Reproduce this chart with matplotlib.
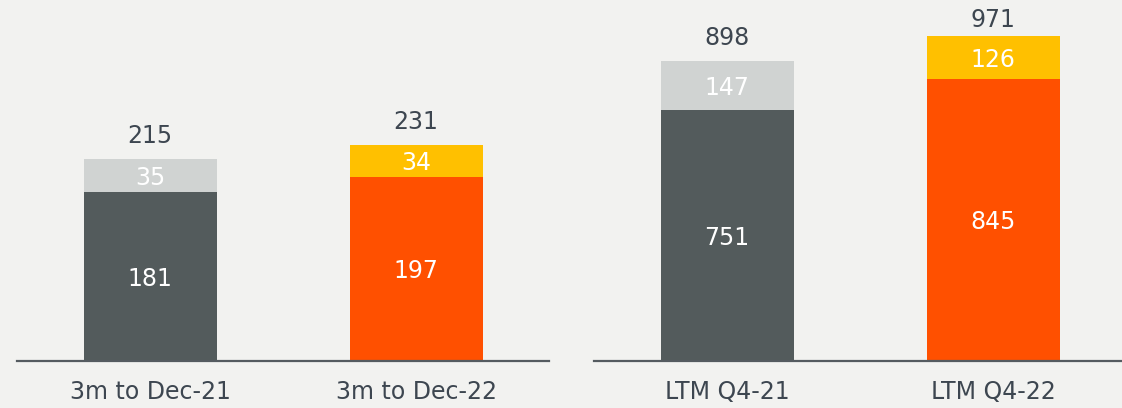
import matplotlib
matplotlib.use("Agg")
import matplotlib.pyplot as plt
import numpy as np

# quarter panel
q_labels = ["3m to Dec-21", "3m to Dec-22"]
q_base = [181, 197]
q_top = [35, 34]
q_total = [215, 231]

# LTM panel
ltm_labels = ["LTM Q4-21", "LTM Q4-22"]
ltm_base = [751, 845]
ltm_top = [147, 126]
ltm_total = [898, 971]

BG = "#F2F2F0"
TXT = "#3D4650"
base_cols = ["#535B5C", "#FF5000"]
top_cols = ["#D0D3D2", "#FFC000"]

fig = plt.figure(figsize=(11.22, 4.08), dpi=100, facecolor=BG)
W, H = 1122, 408
base_y = 361
FS = 17


def panel(left_px, right_px, ytop, labels, base, top, total):
    ax = fig.add_axes([left_px / W, (H - base_y) / H, (right_px - left_px) / W, base_y / H])
    ax.set_facecolor(BG)
    x = np.arange(len(labels))
    ax.bar(x, base, width=0.5, color=base_cols, zorder=2)
    ax.bar(x, top, width=0.5, bottom=base, color=top_cols, zorder=2)
    ax.set_xlim(-0.5, 1.5)
    ax.set_ylim(0, ytop)
    for i in x:
        ax.text(i, base[i] / 2, str(base[i]), ha="center", va="center_baseline",
                color="white", fontsize=FS)
        ax.text(i, base[i] + top[i] / 2, str(top[i]), ha="center", va="center_baseline",
                color="white", fontsize=FS)
        # total above the bar, kept inside the figure
        bar_px = ax.transData.transform((i, base[i] + top[i]))[1]
        off = min(16, H - 27 - bar_px)
        ax.annotate(str(total[i]), (i, base[i] + top[i]), xytext=(0, off),
                    textcoords="offset pixels", ha="center", va="baseline",
                    color=TXT, fontsize=FS)
    for s in ["top", "left", "right"]:
        ax.spines[s].set_visible(False)
    ax.spines["bottom"].set_color("#555B60")
    ax.spines["bottom"].set_linewidth(1.6)
    ax.set_yticks([])
    ax.set_xticks(x)
    ax.set_xticklabels(labels, fontsize=FS, color=TXT)
    ax.tick_params(axis="x", length=0, pad=14)
    return ax


panel(17, 549, 386, q_labels, q_base, q_top, q_total)
panel(594, 1126, 1080, ltm_labels, ltm_base, ltm_top, ltm_total)

fig.savefig("out.png", dpi=100, facecolor=BG)
